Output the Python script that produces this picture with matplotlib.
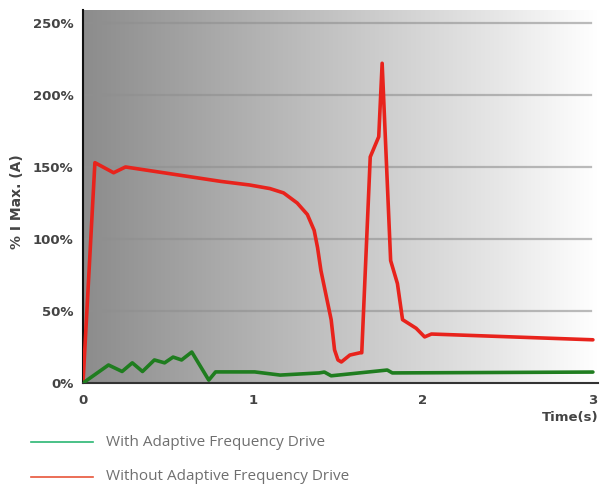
import numpy as np
import matplotlib
matplotlib.use("Agg")
import matplotlib.pyplot as plt
from matplotlib.colors import LinearSegmentedColormap

# Data
t_without = [0.00, 0.07, 0.18, 0.25, 0.81, 0.98, 1.10, 1.18, 1.26, 1.32, 1.36, 1.38,
             1.40, 1.46, 1.48, 1.50, 1.52, 1.57, 1.63, 1.64, 1.69, 1.74, 1.76, 1.81,
             1.85, 1.88, 1.96, 2.01, 2.05, 3.00]
i_without = [0, 153, 146, 150, 140, 137.5, 135, 132, 125, 117, 106, 94,
             78, 44, 23, 16, 14.6, 19.4, 21, 21, 157, 171, 222, 85,
             69, 44, 38, 32, 34, 30]

t_with = [0.00, 0.15, 0.23, 0.29, 0.35, 0.42, 0.48, 0.53, 0.58, 0.64, 0.74, 0.78,
          1.01, 1.16, 1.39, 1.42, 1.46, 1.79, 1.82, 3.00]
i_with = [0, 12.5, 8, 14, 8, 16, 14, 18, 16, 21.5, 2, 7.7,
          7.7, 5.5, 7, 7.6, 5, 9, 7, 7.6]

y_ticks = [0, 50, 100, 150, 200, 250]
y_ticklabels = ["0%", "50%", "100%", "150%", "200%", "250%"]
x_ticks = [0, 1, 2, 3]
x_ticklabels = ["0", "1", "2", "3"]
legend_labels = ["With Adaptive Frequency Drive", "Without Adaptive Frequency Drive"]

W, H = 608, 488
fig = plt.figure(figsize=(W / 100, H / 100), dpi=100)
fig.patch.set_facecolor("white")

left_px, right_px, top_px, bottom_px = 83, 598, 10, 383
ax = fig.add_axes([left_px / W, 1 - bottom_px / H,
                   (right_px - left_px) / W, (bottom_px - top_px) / H])
xmax, ymax = 3.03, 259
ax.set_xlim(0, xmax)
ax.set_ylim(0, ymax)

# gradient background
cmap = LinearSegmentedColormap.from_list(
    "bg", [(0.0, "#8c8c8c"), (0.45, "#bfbfbf"), (0.8, "#e6e6e6"), (1.0, "#ffffff")])
grad = np.linspace(0, 1, 256).reshape(1, -1)
ax.imshow(grad, aspect="auto", cmap=cmap, extent=[0, xmax, 0, ymax], zorder=0)

for y in y_ticks[1:]:
    ax.axhline(y, xmin=0, xmax=2.99 / xmax, color="#8f8f8f", lw=1.6, alpha=0.6, zorder=1)

ax.plot(t_without, i_without, color="#e8231c", lw=2.6, zorder=3,
        solid_joinstyle="round", solid_capstyle="round")
ax.plot(t_with, i_with, color="#1f7d1f", lw=2.6, zorder=3,
        solid_joinstyle="round", solid_capstyle="round")

for s in ["top", "right"]:
    ax.spines[s].set_visible(False)
ax.spines["left"].set_color("#111111")
ax.spines["left"].set_linewidth(1.5)
ax.spines["bottom"].set_color("#333333")
ax.spines["bottom"].set_linewidth(1.5)

ax.set_yticks(y_ticks)
ax.set_yticklabels(y_ticklabels)
ax.set_xticks(x_ticks)
ax.set_xticklabels(x_ticklabels)
ax.tick_params(axis="both", length=0, labelsize=9.5, labelcolor="#444444")
ax.tick_params(axis="y", pad=7)
ax.tick_params(axis="x", pad=8)
for lab in ax.get_xticklabels() + ax.get_yticklabels():
    lab.set_fontfamily("DejaVu Sans")
    lab.set_fontweight("bold")

fig.text(17 / W, 1 - 202 / H, "% I Max. (A)", rotation=90, ha="center", va="center",
         fontsize=10, color="#444444", family="DejaVu Sans", fontweight="bold")
fig.text(598 / W, 1 - 418 / H, "Time(s)", ha="right", va="center",
         fontsize=9.5, color="#444444", family="DejaVu Sans", fontweight="bold")

# legend below
leg_colors = ["#2bb673", "#e8553a"]
leg_y = [442, 477]
for lbl, col, yy in zip(legend_labels, leg_colors, leg_y):
    fig.add_artist(plt.Line2D([31 / W, 93 / W], [1 - yy / H, 1 - yy / H],
                              color=col, lw=1.2, transform=fig.transFigure))
    fig.text(106 / W, 1 - yy / H, lbl, ha="left", va="center", fontsize=11,
             color="#6f6f6f", family="Open Sans")

fig.savefig("out.png", dpi=100, facecolor="white")
